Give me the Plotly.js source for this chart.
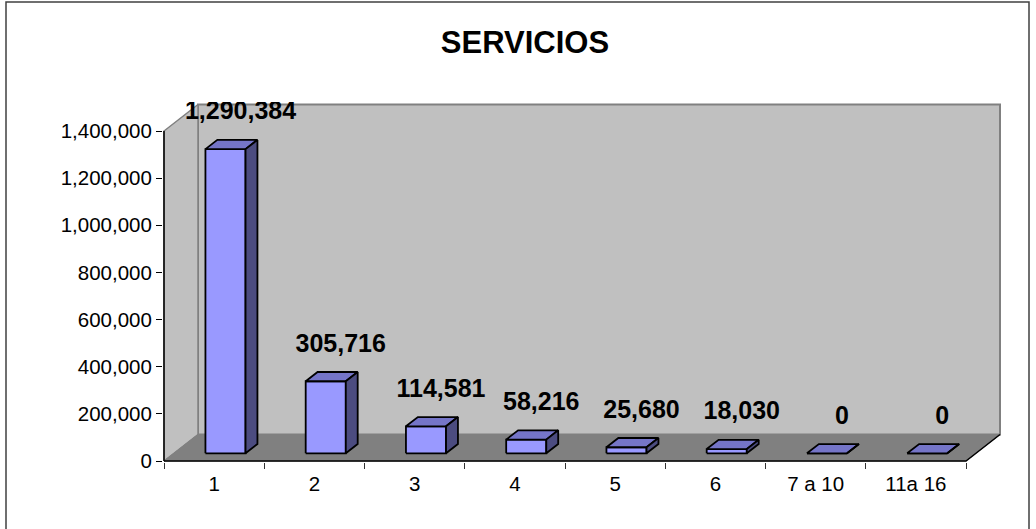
<!DOCTYPE html>
<html>
<head>
<meta charset="utf-8">
<script src="https://cdn.plot.ly/plotly-3.0.1.min.js"></script>
<style>
  html, body { margin: 0; padding: 0; background: #ffffff; }
  #chart { width: 1036px; height: 529px; }
</style>
</head>
<body>
<div id="chart"></div>
<script>
// ---- data ----
const categories = ['1', '2', '3', '4', '5', '6', '7 a 10', '11a 16'];
const servicios = [1290384, 305716, 114581, 58216, 25680, 18030, 0, 0];
const yTickValues = [0, 200000, 400000, 600000, 800000, 1000000, 1200000, 1400000];
const chartTitle = 'SERVICIOS';

// ---- geometry / style constants (pixels) ----
const W = 1036, H = 529;
const frontLeftPx = 164, frontRightPx = 966, zeroPx = 461, topTickPx = 131;
const depthDXpx = 34, depthDYpx = 26.5;
const ml = 163, mr = 34, mt = 102, mb = 67;
const plotW = W - ml - mr, plotH = H - mt - mb;
const nCat = categories.length;
const yMax = yTickValues[yTickValues.length - 1];
const kx = (frontRightPx - frontLeftPx) / nCat;      // px per category
const ky = (zeroPx - topTickPx) / yMax;               // px per unit value
const DXu = depthDXpx / kx, DYu = depthDYpx / ky;    // depth offset in data units
const barOffset = 0.315, barW = 0.40, f1 = 0.29, f2 = 0.64;

const FONT = 'Liberation Sans, Arial, Helvetica, sans-serif';

function addPoly(acc, pts) {
  pts.forEach(p => { acc.x.push(p[0]); acc.y.push(p[1]); });
  acc.x.push(pts[0][0]); acc.y.push(pts[0][1]);
  acc.x.push(null); acc.y.push(null);
}

// walls and floor
const back = {x: [], y: []}, left = {x: [], y: []}, floor = {x: [], y: []};
addPoly(back, [[DXu, DYu], [nCat + DXu, DYu], [nCat + DXu, yMax + DYu], [DXu, yMax + DYu]]);
addPoly(left, [[0, 0], [DXu, DYu], [DXu, yMax + DYu], [0, yMax]]);
addPoly(floor, [[0, 0], [nCat, 0], [nCat + DXu, DYu], [DXu, DYu]]);

// bars
const fronts = {x: [], y: []}, tops = {x: [], y: []}, sides = {x: [], y: []};
const labX = [], labY = [], labT = [];
const fmt = new Intl.NumberFormat('en-US');
servicios.forEach((v, i) => {
  const xl = i + barOffset + f1 * DXu, xr = xl + barW;
  const yb = f1 * DYu, yt = v + yb;
  const ddx = (f2 - f1) * DXu, ddy = (f2 - f1) * DYu;
  addPoly(fronts, [[xl, yb], [xr, yb], [xr, yt], [xl, yt]]);
  addPoly(tops, [[xl, yt], [xr, yt], [xr + ddx, yt + ddy], [xl + ddx, yt + ddy]]);
  addPoly(sides, [[xr, yb], [xr + ddx, yb + ddy], [xr + ddx, yt + ddy], [xr, yt]]);
  labX.push((xl + xr) / 2 + 15 / kx);
  labY.push(yt + 36 / ky);
  labT.push(fmt.format(v));
});

const xRange = [-1 / kx, (plotW - 1) / kx];

const traces = [
  {x: back.x, y: back.y, mode: 'lines', fill: 'toself', fillcolor: '#C0C0C0',
   line: {color: '#808080', width: 2}, hoverinfo: 'skip'},
  {x: left.x, y: left.y, mode: 'lines', fill: 'toself', fillcolor: '#C0C0C0',
   line: {color: '#808080', width: 1.5}, hoverinfo: 'skip'},
  {x: floor.x, y: floor.y, mode: 'lines', fill: 'toself', fillcolor: '#808080',
   line: {color: '#808080', width: 1}, hoverinfo: 'skip'},
  {x: [0, 0, null, 0, nCat, nCat + DXu], y: [yMax, 0, null, 0, 0, DYu], mode: 'lines',
   line: {color: '#000000', width: 1.5}, hoverinfo: 'skip'},
  {x: fronts.x, y: fronts.y, mode: 'lines', fill: 'toself', fillcolor: '#9999FF',
   line: {color: '#000000', width: 1.8}, hoverinfo: 'skip'},
  {x: tops.x, y: tops.y, mode: 'lines', fill: 'toself', fillcolor: '#7575C8',
   line: {color: '#000000', width: 1.8}, hoverinfo: 'skip'},
  {x: sides.x, y: sides.y, mode: 'lines', fill: 'toself', fillcolor: '#4C4C80',
   line: {color: '#000000', width: 1.8}, hoverinfo: 'skip'},
  {x: labX, y: labY, text: labT, mode: 'text', textposition: 'middle center', xaxis: 'x2',
   textfont: {family: FONT, size: 25, color: '#000000', weight: 'bold'}, hoverinfo: 'skip'}
];

const layout = {
  width: W, height: H,
  margin: {l: ml, r: mr, t: mt, b: mb, pad: 0},
  paper_bgcolor: '#ffffff', plot_bgcolor: 'rgba(0,0,0,0)',
  showlegend: false, hovermode: false,
  title: {text: '<b>' + chartTitle + '</b>', font: {family: FONT, size: 31, color: '#000000'},
          x: 525 / W, xanchor: 'center', xref: 'container',
          y: 1 - 42 / H, yanchor: 'middle', yref: 'container'},
  xaxis: {range: xRange, tickvals: categories.map((c, i) => i).concat([nCat]),
          showticklabels: false, ticks: 'outside', ticklen: 6, tickwidth: 1, tickcolor: '#333333',
          showgrid: false, zeroline: false, showline: false, fixedrange: true},
  xaxis2: {range: xRange, overlaying: 'x', anchor: 'y', side: 'bottom',
           tickvals: categories.map((c, i) => i + 0.5), ticktext: categories,
           ticks: '', ticklabelstandoff: 7,
           showgrid: false, zeroline: false, showline: false, fixedrange: true,
           tickfont: {family: FONT, size: 20.5, color: '#000000'}},
  yaxis: {range: [-(plotH - (zeroPx - mt)) / ky, (zeroPx - mt) / ky], tickvals: yTickValues,
          tickformat: ',d', ticks: 'outside', ticklen: 6, tickwidth: 1, tickcolor: '#000000',
          showgrid: false, zeroline: false, showline: false, fixedrange: true,
          tickfont: {family: FONT, size: 20.5, color: '#000000'}},
  shapes: [{type: 'rect', xref: 'paper', yref: 'paper',
            x0: (6 - ml) / plotW, x1: (1029 - ml) / plotW,
            y0: ((H - mb) - 540) / plotH, y1: ((H - mb) - 2) / plotH,
            line: {color: '#404040', width: 1.5}, fillcolor: 'rgba(0,0,0,0)'}]
};

Plotly.newPlot('chart', traces, layout, {displayModeBar: false, staticPlot: true});
</script>
</body>
</html>
